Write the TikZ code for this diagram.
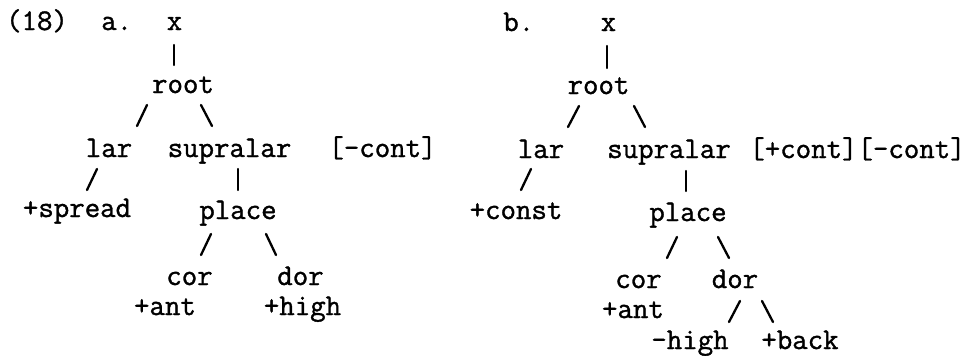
\documentclass[tikz,border=0pt]{standalone}
\usepackage{fontspec}
\newfontfamily\tw{Latin Modern Mono}[FakeBold=1.2]
\tikzset{
  tt/.style={inner sep=0pt,outer sep=0pt,anchor=base,font=\tw\fontsize{30}{30}\selectfont},
  edge/.style={line width=2.3pt,line cap=round,black}
}
\newcommand\tstroke[5]{\coordinate (#1-s) at (#2,#3);\coordinate (#1-e) at (#4,#5);\draw[edge] (#1-s) -- (#1-e);}
\begin{document}
\begin{tikzpicture}[x=1pt,y=-1pt]
\useasboundingbox[fill=white] (0,0) rectangle (972,356);
% ---------- tree a
\node[tt] (num) at (37,30) {(18)};
\node[tt] (alab) at (116.75,30) {a.};
\node[tt] (ax) at (174.5,30) {x};
\node[tt] (aroot) at (183,93) {root};
\node[tt] (alar) at (109,157) {lar};
\node[tt] (asup) at (229.5,157) {supralar};
\node[tt] (acont) at (382.5,157) {[-cont]};
\node[tt] (asprd) at (77,217) {+spread};
\node[tt] (aplace) at (238,219) {place};
\node[tt] (acor) at (189.5,285) {cor};
\node[tt] (ador) at (300.5,285) {dor};
\node[tt] (aant) at (165,315) {+ant};
\node[tt] (ahigh) at (302.5,315) {+high};
\tstroke{ax-aroot}{174}{45}{174}{65}
\tstroke{aroot-alar}{137}{126}{147}{105}
\tstroke{aroot-asup}{201}{105}{212}{126}
\tstroke{alar-asprd}{87}{190}{97}{169}
\tstroke{asup-aplace}{238}{169}{238}{190}
\tstroke{aplace-acor}{201}{255}{211}{234}
\tstroke{aplace-ador}{266}{234}{276}{255}
% ---------- tree b
\node[tt] (blab) at (518.75,31) {b.};
\node[tt] (bx) at (608.5,31) {x};
\node[tt] (broot) at (598.5,94) {root};
\node[tt] (blar) at (541,158) {lar};
\node[tt] (bsup) at (669,158) {supralar};
\node[tt] (bcont) at (857.5,158) {[+cont][-cont]};
\node[tt] (bconst) at (516,219) {+const};
\node[tt] (bplace) at (688,221) {place};
\node[tt] (bcor) at (638.5,288) {cor};
\node[tt] (bdor) at (735,288) {dor};
\node[tt] (bant) at (633,318) {+ant};
\node[tt] (bhigh) at (690,349) {-high};
\node[tt] (bback) at (800,349) {+back};
\tstroke{bx-broot}{607}{46}{607}{68}
\tstroke{broot-blar}{568}{127}{579}{106}
\tstroke{broot-bsup}{634}{106}{645}{127}
\tstroke{blar-bconst}{521}{190}{531}{169}
\tstroke{bsup-bplace}{686}{171}{686}{191}
\tstroke{bplace-bcor}{667}{258}{677}{237}
\tstroke{bplace-bdor}{718}{237}{729}{258}
\tstroke{bdor-bhigh}{729}{322}{740}{301}
\tstroke{bdor-bback}{762}{301}{773}{322}
\end{tikzpicture}
\end{document}
